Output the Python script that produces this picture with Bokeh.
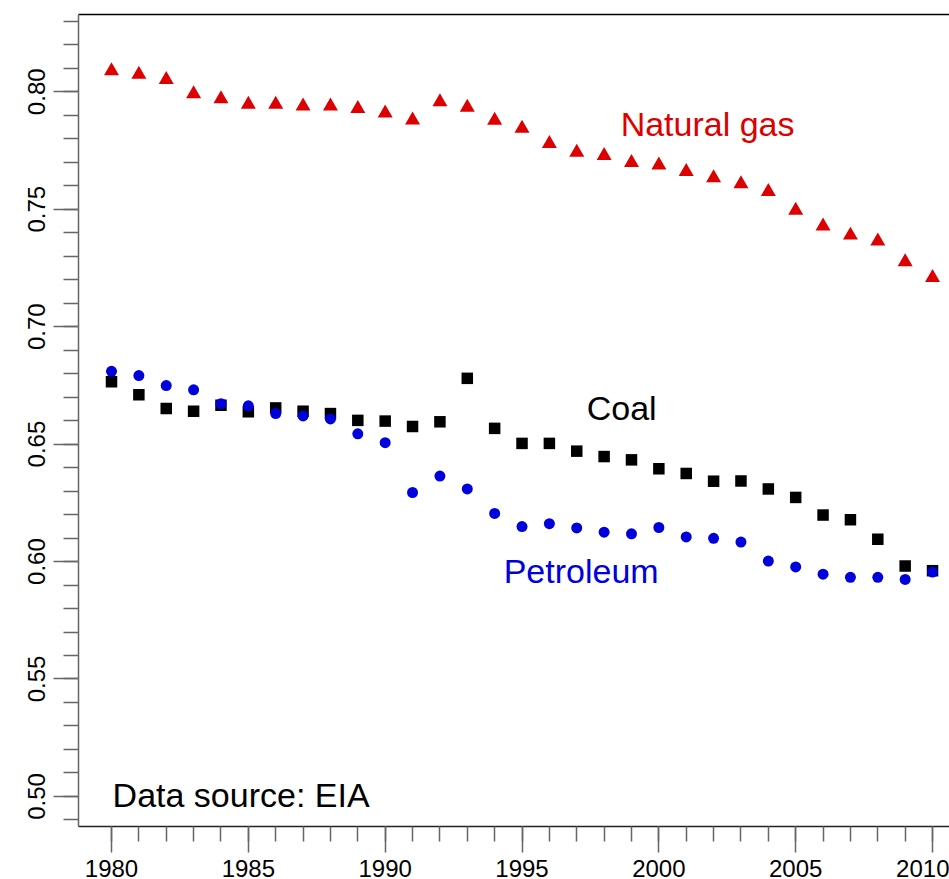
from bokeh.plotting import figure
from bokeh.models import (ColumnDataSource, FixedTicker, LinearAxis, Range1d, Label)
from bokeh.embed import file_html
from bokeh.resources import INLINE

# ---- data ----
years = list(range(1980, 2011))

natural_gas = [0.8089, 0.8074, 0.8052, 0.7991, 0.7970, 0.7946, 0.7946, 0.7939,
               0.7939, 0.7928, 0.7909, 0.7879, 0.7957, 0.7933, 0.7878, 0.7844,
               0.7779, 0.7742, 0.7728, 0.7698, 0.7688, 0.7660, 0.7633, 0.7608,
               0.7575, 0.7495, 0.7428, 0.7389, 0.7364, 0.7276, 0.7209]

coal = [0.6766, 0.6710, 0.6652, 0.6640, 0.6665, 0.6638, 0.6654, 0.6640,
        0.6630, 0.6601, 0.6598, 0.6575, 0.6595, 0.6780, 0.6567, 0.6503,
        0.6503, 0.6470, 0.6447, 0.6433, 0.6395, 0.6375, 0.6342, 0.6343,
        0.6309, 0.6273, 0.6198, 0.6178, 0.6095, 0.5981, 0.5961]

petroleum = [0.6810, 0.6792, 0.6749, 0.6731, 0.6672, 0.6663, 0.6630, 0.6620,
             0.6607, 0.6544, 0.6506, 0.6294, 0.6364, 0.6309, 0.6205, 0.6149,
             0.6161, 0.6143, 0.6125, 0.6118, 0.6145, 0.6105, 0.6099, 0.6083,
             0.6002, 0.5977, 0.5946, 0.5933, 0.5933, 0.5924, 0.5955]

x_major_ticks = [1980, 1985, 1990, 1995, 2000, 2005, 2010]
x_tick_labels = ["1980", "1985", "1990", "1995", "2000", "2005", "2010"]
y_major_ticks = [0.50, 0.55, 0.60, 0.65, 0.70, 0.75, 0.80]
y_tick_labels = ["0.50", "0.55", "0.60", "0.65", "0.70", "0.75", "0.80"]
y_minor_ticks = [round(0.49 + 0.01 * i, 2) for i in range(35)]

series_names = ["Natural gas", "Coal", "Petroleum"]
source_note = "Data source: EIA"

RED = "#dd0000"
BLUE = "#0000dd"
BLACK = "#000000"
FONT = "Liberation Sans"

src = ColumnDataSource(dict(year=years, gas=natural_gas, coal=coal, pet=petroleum))

p = figure(width=949, height=879, output_backend="svg", toolbar_location=None,
           x_range=Range1d(1978.794, 2010.62), y_range=Range1d(0.4872, 0.8329),
           x_axis_type=None, y_axis_type=None,
           min_border_left=78, min_border_right=0, min_border_top=14,
           min_border_bottom=0)
p.outline_line_color = None
p.xgrid.visible = False
p.ygrid.visible = False
p.background_fill_color = "white"
p.border_fill_color = "white"

# bottom axis
xa = LinearAxis(ticker=FixedTicker(ticks=x_major_ticks, minor_ticks=years))
xa.major_label_overrides = {t: l for t, l in zip(x_major_ticks, x_tick_labels)}
xa.axis_line_color = "#222222"
xa.axis_line_width = 1.5
xa.major_tick_line_color = "#666666"
xa.minor_tick_line_color = "#666666"
xa.major_tick_line_width = 1.5
xa.minor_tick_line_width = 1.5
xa.major_tick_in = 0
xa.minor_tick_in = 0
xa.major_tick_out = 26
xa.minor_tick_out = 15
xa.major_label_standoff = 7
xa.major_label_text_font = FONT
xa.major_label_text_font_size = "24px"
xa.major_label_text_color = BLACK
p.add_layout(xa, "below")

# left axis
ya = LinearAxis(ticker=FixedTicker(ticks=y_major_ticks, minor_ticks=y_minor_ticks))
ya.major_label_overrides = {t: l for t, l in zip(y_major_ticks, y_tick_labels)}
ya.axis_line_color = "#666666"
ya.axis_line_width = 1.5
ya.major_tick_line_color = "#666666"
ya.minor_tick_line_color = "#666666"
ya.major_tick_line_width = 1.5
ya.minor_tick_line_width = 1.5
ya.major_tick_in = 0
ya.minor_tick_in = 0
ya.major_tick_out = 25
ya.minor_tick_out = 15
ya.major_label_standoff = 8
ya.major_label_orientation = "vertical"
ya.major_label_text_font = FONT
ya.major_label_text_font_size = "24px"
ya.major_label_text_color = BLACK
p.add_layout(ya, "left")

# top border line
ta = LinearAxis(ticker=FixedTicker(ticks=[], minor_ticks=[]))
ta.axis_line_color = "#000000"
ta.axis_line_width = 1.5
ta.major_tick_out = 0
ta.minor_tick_out = 0
ta.major_tick_in = 0
ta.minor_tick_in = 0
ta.major_label_text_font_size = "0px"
ta.major_label_standoff = 0
p.add_layout(ta, "above")

# markers
p.scatter("year", "gas", source=src, marker="triangle", size=15,
          fill_color=RED, line_color=None)
p.scatter("year", "coal", source=src, marker="square", size=11.5,
          fill_color=BLACK, line_color=None)
p.scatter("year", "pet", source=src, marker="circle", size=11,
          fill_color=BLUE, line_color=None)

# series labels
p.add_layout(Label(x=2001.78, y=0.7861, text=series_names[0], text_color=RED,
                   text_font=FONT, text_font_size="34px", text_align="center",
                   text_baseline="alphabetic"))
p.add_layout(Label(x=1998.64, y=0.6654, text=series_names[1], text_color=BLACK,
                   text_font=FONT, text_font_size="34px", text_align="center",
                   text_baseline="alphabetic"))
p.add_layout(Label(x=1997.16, y=0.5958, text=series_names[2], text_color=BLUE,
                   text_font=FONT, text_font_size="34px", text_align="center",
                   text_baseline="alphabetic"))
p.add_layout(Label(x=1980.04, y=0.5006, text=source_note, text_color=BLACK,
                   text_font=FONT, text_font_size="34px", text_align="left",
                   text_baseline="alphabetic"))

open("out.html", "w").write(file_html(p, INLINE))
